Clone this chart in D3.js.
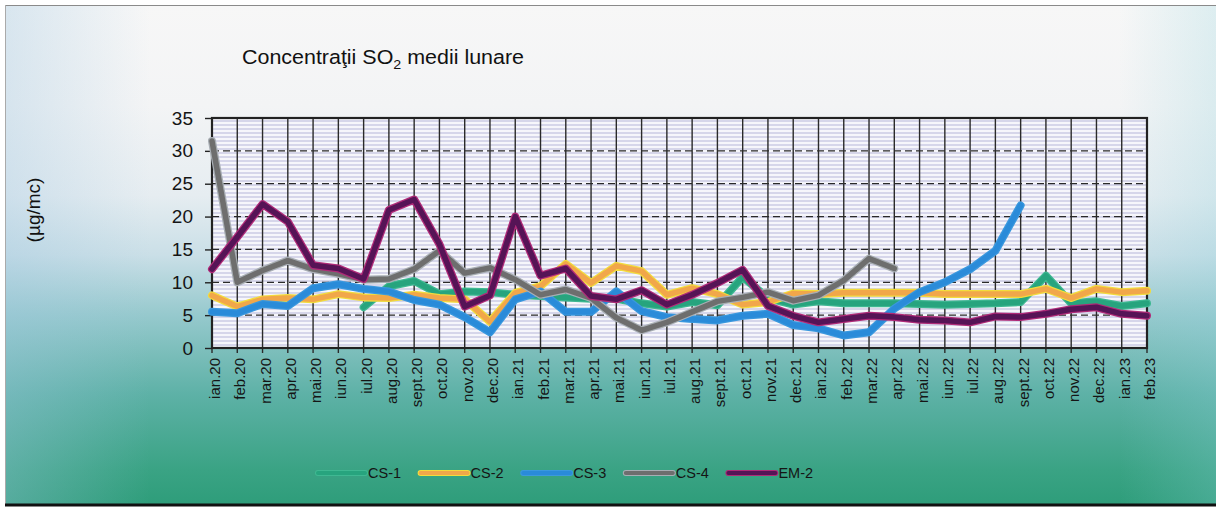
<!DOCTYPE html>
<html><head><meta charset="utf-8">
<script src="https://cdn.jsdelivr.net/npm/d3@7"></script>
<style>body{margin:0;background:#fff} svg{display:block;font-family:"Liberation Sans",Arial,sans-serif}</style>
</head><body><svg id="c" width="1219" height="511"></svg>
<script>
const categories = ["ian.20","feb.20","mar.20","apr.20","mai.20","iun.20","iul.20","aug.20","sept.20","oct.20","nov.20","dec.20",
  "ian.21","feb.21","mar.21","apr.21","mai.21","iun.21","iul.21","aug.21","sept.21","oct.21","nov.21","dec.21",
  "ian.22","feb.22","mar.22","apr.22","mai.22","iun.22","iul.22","aug.22","sept.22","oct.22","nov.22","dec.22",
  "ian.23","feb.23"];
const cs1 = [null,null,null,null,null,null,6.2,9.4,10.2,8.2,8.6,8.5,
  8.1,7.9,7.7,7.5,7.5,6.8,6.3,7.0,6.5,10.8,7.6,6.6,
  7.1,6.8,6.8,6.8,6.7,6.6,6.7,6.8,7.0,11.0,6.8,7.1,6.4,6.8];
const cs2 = [8.0,6.3,7.4,7.6,7.4,8.2,7.7,7.6,8.1,7.6,7.4,4.0,
  8.4,9.4,12.8,9.9,12.5,11.7,8.1,9.1,8.2,6.6,7.0,8.3,
  8.2,8.4,8.4,8.4,8.4,8.2,8.2,8.2,8.2,9.0,7.6,9.0,8.5,8.7];
const cs3 = [5.5,5.3,6.7,6.4,9.1,9.7,9.0,8.6,7.3,6.6,4.7,2.4,
  7.4,8.6,5.5,5.5,8.6,5.6,4.7,4.4,4.2,4.9,5.2,3.5,
  3.0,1.9,2.4,6.0,8.5,10.0,12.0,14.8,21.7,null,null,null,null,null];
const cs4 = [31.5,10.0,11.8,13.3,12.0,11.3,10.4,10.5,12.0,14.8,11.4,12.2,
  10.4,8.1,8.9,7.6,4.6,2.7,3.9,5.5,7.1,7.7,8.5,7.2,
  8.0,10.3,13.6,12.1,null,null,null,null,null,null,null,null,null,null];
const em2 = [12.0,16.9,21.9,19.2,12.6,12.1,10.5,21.0,22.6,15.8,6.3,8.0,
  20.0,11.0,12.1,7.9,7.4,8.8,6.6,8.1,9.9,11.9,6.4,4.9,
  3.9,4.4,4.9,4.7,4.3,4.2,3.9,4.8,4.7,5.2,5.9,6.2,5.2,4.9];
const seriesNames = ["CS-1","CS-2","CS-3","CS-4","EM-2"];
const yTicks = [0,5,10,15,20,25,30,35];

const seriesData = [cs1,cs2,cs3,cs4,em2];
const styles = [
  {edge:"#3fb892", core:"#27a47e"},
  {edge:"#f2dc3c", core:"#f1a74a"},
  {edge:"#3a98de", core:"#2a8bd9"},
  {edge:"#a8aeb4", core:"#6e6e6e"},
  {edge:"#b02a78", core:"#561456"}
];

const svg = d3.select("#c");
const m = {left:212,right:1147,top:118,bottom:348};
const x = d3.scalePoint().domain(categories).range([m.left,m.right]);
const y = d3.scaleLinear().domain([0,35]).range([m.bottom,m.top]);

const defs = svg.append("defs");
const g = defs.append("linearGradient").attr("id","bg").attr("x1",0).attr("y1",0).attr("x2",0).attr("y2",1);
[[0,"#f7f7f7"],[0.2,"#f3f4f5"],[0.38,"#e6edf1"],[0.5,"#cadfe7"],[0.62,"#96c9cd"],[0.78,"#5db1a6"],[0.93,"#3aa384"],[1,"#2e9d7a"]]
  .forEach(s=>g.append("stop").attr("offset",s[0]).attr("stop-color",s[1]));
const gl = defs.append("linearGradient").attr("id","bgl").attr("x1",0).attr("y1",0).attr("x2",1).attr("y2",0);
gl.append("stop").attr("offset",0).attr("stop-color","#9fc6e0").attr("stop-opacity",0.35);
gl.append("stop").attr("offset",0.12).attr("stop-color","#9fc6e0").attr("stop-opacity",0);
gl.append("stop").attr("offset",0.92).attr("stop-color","#8fd2dc").attr("stop-opacity",0);
gl.append("stop").attr("offset",1).attr("stop-color","#8fd2dc").attr("stop-opacity",0.25);
const pat = defs.append("pattern").attr("id","stripes").attr("patternUnits","userSpaceOnUse").attr("width",8).attr("height",4);
pat.append("rect").attr("width",8).attr("height",4).attr("fill","#f6f6fb");
pat.append("rect").attr("width",8).attr("height",2).attr("fill","#d6d6ea");

// frame background
svg.append("rect").attr("x",5).attr("y",5).attr("width",1211).attr("height",500).attr("fill","url(#bg)");
svg.append("rect").attr("x",5).attr("y",5).attr("width",1211).attr("height",500).attr("fill","url(#bgl)");
svg.append("line").attr("x1",5).attr("x2",1216).attr("y1",5.5).attr("y2",5.5).attr("stroke","#8a8a8a").attr("stroke-width",1);
svg.append("line").attr("x1",5.5).attr("x2",5.5).attr("y1",5).attr("y2",505).attr("stroke","#aaa").attr("stroke-width",1);
svg.append("line").attr("x1",5).attr("x2",1216).attr("y1",505).attr("y2",505).attr("stroke","#111").attr("stroke-width",3);

// plot area
svg.append("rect").attr("x",m.left).attr("y",m.top).attr("width",m.right-m.left).attr("height",m.bottom-m.top).attr("fill","url(#stripes)");

// vertical grid
svg.append("g").selectAll("line").data(categories).join("line")
  .attr("x1",d=>x(d)).attr("x2",d=>x(d)).attr("y1",m.top).attr("y2",m.bottom+5)
  .attr("stroke","#2a2a2a").attr("stroke-width",1.4);
// horizontal dashed grid
svg.append("g").selectAll("line").data(yTicks.filter(t=>t>0&&t<35)).join("line")
  .attr("x1",m.left).attr("x2",m.right).attr("y1",d=>y(d)).attr("y2",d=>y(d))
  .attr("stroke","#2a2a2a").attr("stroke-width",1.3).attr("stroke-dasharray","7,4");

// y axis
const ya = svg.append("g").attr("transform",`translate(${m.left},0)`)
  .call(d3.axisLeft(y).tickValues(yTicks).tickSize(7).tickPadding(12));
ya.select(".domain").remove();
ya.selectAll(".tick line").attr("stroke","#222").attr("stroke-width",1.4);
ya.selectAll(".tick text").attr("font-size",19).attr("fill","#151515").attr("font-family","Liberation Sans, Arial, sans-serif");

// x labels
svg.append("g").selectAll("text").data(categories).join("text")
  .attr("transform",d=>`translate(${x(d)+8},${m.bottom+10}) rotate(-90)`)
  .attr("text-anchor","end").attr("font-size",15).attr("fill","#151515").text(d=>d);

// plot border
svg.append("rect").attr("x",m.left).attr("y",m.top).attr("width",m.right-m.left).attr("height",m.bottom-m.top)
  .attr("fill","none").attr("stroke","#222").attr("stroke-width",2.2);

// series lines
const line = d3.line().defined(d=>d!=null).x((d,i)=>x(categories[i])).y(d=>y(d));
seriesData.forEach((data,k)=>{
  const gg = svg.append("g");
  gg.append("path").datum(data).attr("d",line).attr("fill","none").attr("stroke",styles[k].edge)
    .attr("stroke-width",8).attr("stroke-linejoin","round").attr("stroke-linecap","round");
  gg.append("path").datum(data).attr("d",line).attr("fill","none").attr("stroke",styles[k].core)
    .attr("stroke-width",5.5).attr("stroke-linejoin","round").attr("stroke-linecap","round");
});

// title
const t = svg.append("text").attr("transform","translate(242,64) scale(1.1,1)").attr("font-size",19.5).attr("fill","#111");
t.append("tspan").text("Concentraţii SO");
t.append("tspan").attr("font-size",13).attr("dy",5).text("2");
t.append("tspan").attr("dy",-5).text(" medii lunare");

// y title
svg.append("text").attr("transform","translate(40,210) rotate(-90)").attr("text-anchor","middle")
  .attr("font-size",19).attr("fill","#111").text("(µg/mc)");

// legend
const lg = svg.append("g");
seriesNames.forEach((name,k)=>{
  const x0 = 318 + k*102.6;
  lg.append("line").attr("x1",x0).attr("x2",x0+47).attr("y1",473).attr("y2",473)
    .attr("stroke",styles[k].edge).attr("stroke-width",6).attr("stroke-linecap","round");
  lg.append("line").attr("x1",x0).attr("x2",x0+47).attr("y1",473).attr("y2",473)
    .attr("stroke",styles[k].core).attr("stroke-width",4).attr("stroke-linecap","round");
  lg.append("text").attr("x",x0+50).attr("y",478).attr("font-size",14.5).attr("fill","#151515").text(name);
});
</script></body></html>
